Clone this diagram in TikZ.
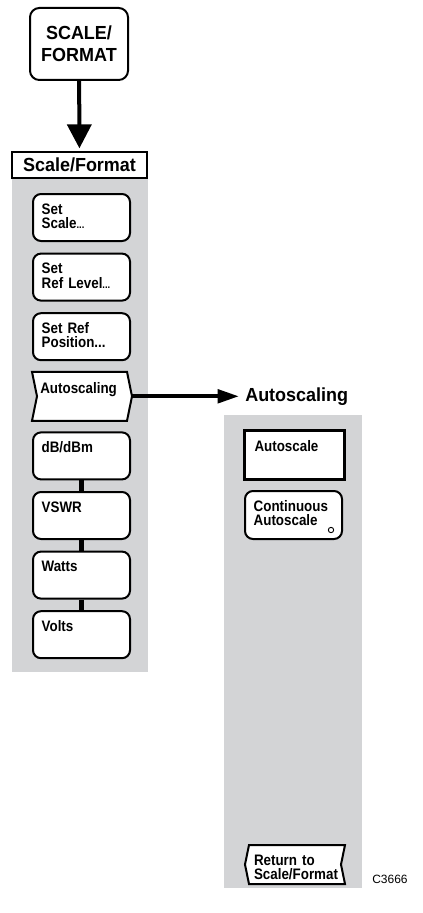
\documentclass[tikz,border=0pt]{standalone}
\usepackage{fontspec}
\setmainfont{Liberation Sans}
\newfontfamily\keyfamily{Liberation Sans}[FakeStretch=0.88]
\newfontfamily\titlefamily{Liberation Sans}[FakeStretch=0.95]
\usetikzlibrary{arrows.meta,calc,positioning}
\definecolor{panelgray}{RGB}{211,212,214}

\pgfdeclarelayer{background}
\pgfdeclarelayer{keyback}
\pgfsetlayers{background,keyback,main}

\tikzset{
    keyfont/.style={font=\keyfamily\fontsize{11.4}{10.8}\selectfont\bfseries},
    titlefont/.style={font=\titlefamily\fontsize{14.2}{16.5}\selectfont\bfseries},
    softkey/.style={draw, fill=white, line width=1.5pt, rounded corners=6pt,
        anchor=north west, text width=59.75pt, inner xsep=6.5pt, inner ysep=6.9pt,
        align=left, keyfont, text height=8.3pt, text depth=13.15pt},
    flagkey/.style={softkey, draw=none, fill=none, rounded corners=0pt},
    boxkey/.style={softkey, rounded corners=0pt, line width=2.25pt},
    hardkey/.style={draw, fill=white, line width=1.5pt, rounded corners=7pt,
        minimum width=73.5pt, minimum height=54pt, align=center, titlefont},
    menutitle/.style={draw, fill=white, line width=1.5pt, minimum width=101.25pt,
        minimum height=19.5pt, inner sep=0pt, titlefont},
    keyline/.style={line width=1.5pt, fill=white, line join=miter},
    link/.style={line width=3.75pt},
    bigarrow/.style={line width=3pt, -{Triangle[length=18pt, width=18pt]}, shorten >=2pt},
    sidearrow/.style={line width=3pt, -{Triangle[length=16pt, width=10pt]}}
}

\begin{document}
\begin{tikzpicture}[x=0.75pt, y=-0.75pt]
    \useasboundingbox (0,0) rectangle (423,913);

    % Panels
    \begin{pgfonlayer}{background}
        \fill[panelgray] (12,178) rectangle (148,672);
        \fill[panelgray] (224,415) rectangle (362,888);
    \end{pgfonlayer}

    % Hard key and menu title
    \node[hardkey] (scalekey) at (79,44) {SCALE/\\FORMAT};
    \node[menutitle] (scaletitle) at (79.5,165) {Scale/Format};
    \draw[bigarrow] (scalekey) -- (scaletitle);

    % Scale/Format menu
    \node[softkey] (setscale) at (32,193) {Set\\Scale{\fontsize{8}{8}\selectfont\bfseries...}};
    \node[softkey] (setref) at (32,252.6) {Set\\Ref Level{\fontsize{8}{8}\selectfont\bfseries...}};
    \node[softkey] (setpos) at (32,312.2) {Set Ref\\Position...};
    \node[flagkey, text width=58.75pt, inner xsep=5.5pt] (autoscaling) at (32,371.8) {Autoscaling};
    \begin{pgfonlayer}{keyback}
        \draw[keyline] (autoscaling.north west) -- (autoscaling.north east)
            -- ($(autoscaling.east)+(5,0)$) -- (autoscaling.south east)
            -- (autoscaling.south west) -- ($(autoscaling.west)+(5,0)$) -- cycle;
    \end{pgfonlayer}
    \coordinate (autotip) at ($(autoscaling.east)+(5,0)$);

    % Units
    \foreach \t/\n [count=\i from 0] in {{dB/dBm}/dbdbm, VSWR/vswr, Watts/watts, Volts/volts} {
        \node[softkey] (\n) at (32,{431.4+59.6*\i}) {\t};
    }
    \draw[link] (dbdbm.south) -- (vswr.north);
    \draw[link] (vswr.south) -- (watts.north);
    \draw[link] (watts.south) -- (volts.north);

    % Autoscaling menu
    \node[titlefont, inner sep=4.5pt, right=80.25pt of autotip] (autotitle) {Autoscaling};
    \draw[sidearrow] (autotip) -- (autotitle);
    \node[boxkey, text width=60pt, inner xsep=7.5pt, inner ysep=7.2pt, text depth=14.25pt] (autoscale) at (243,429) {Autoscale};
    \node[softkey, text depth=13.9pt] (contauto) at (244,490) {Continuous\\Autoscale};
    \draw[line width=0.7pt] ($(contauto.south east)+(-12,-10)$) circle[radius=2pt];

    \node[flagkey, text width=64.5pt, inner xsep=3pt, inner ysep=6pt, text depth=7.45pt] (return) at (249,845) {Return to\\Scale/Format};
    \begin{pgfonlayer}{keyback}
        \draw[keyline] (return.north west) -- (return.north east)
            -- ($(return.east)+(-4,0)$) -- (return.south east)
            -- (return.south west) -- ($(return.west)+(-4,0)$) -- cycle;
    \end{pgfonlayer}

    % Figure number
    \node[anchor=base west, font=\fontsize{9}{9}\selectfont, inner sep=0pt] (fignum) at (372,883) {C3666};
\end{tikzpicture}
\end{document}
